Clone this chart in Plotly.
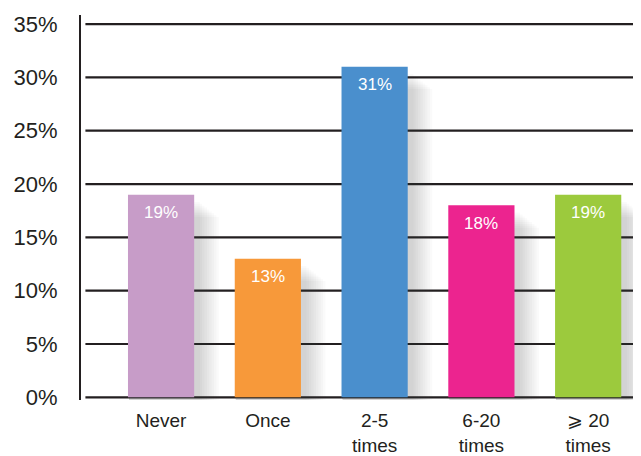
import plotly.graph_objects as go

categories = ["Never", "Once", "2-5<br>times", "6-20<br>times", "⩾ 20<br>times"]
values = [19, 13, 31, 18, 19]
bar_colors = ["#c79cc8", "#f7993a", "#4a8fcd", "#ec248f", "#9cca3d"]
y_ticks = [0, 5, 10, 15, 20, 25, 30, 35]
y_tick_labels = [f"{t}%" for t in y_ticks]

ink = "#231f20"
x_pos = list(range(len(categories)))
bar_w = 0.62

fig = go.Figure()

# soft drop shadow behind each bar, built from stacked translucent layers
n_layers = 9
for k in range(n_layers):
    spread = (n_layers - k) / n_layers
    fig.add_trace(go.Bar(
        x=x_pos, y=[v - 0.1 - 0.7 * spread for v in values],
        base=-0.4 - 0.9 * spread,
        width=bar_w + 0.02 + 0.2 * spread, offset=-bar_w / 2 + 0.01,
        marker=dict(color="rgba(70,70,85,0.028)", line=dict(width=0)),
        hoverinfo="skip", showlegend=False, cliponaxis=False,
    ))

fig.add_trace(go.Bar(
    x=x_pos, y=values, width=bar_w,
    marker=dict(color=bar_colors, line=dict(width=0)),
    showlegend=False, cliponaxis=False,
))

# value labels inside the top of each bar
for x, v in zip(x_pos, values):
    fig.add_annotation(
        x=x, y=v, text=f"{v}%", showarrow=False, yshift=-18,
        font=dict(family="Liberation Sans, Arial, sans-serif", size=17, color="white"),
    )

# horizontal gridlines
for t in y_ticks:
    fig.add_shape(
        type="line", xref="paper", yref="y", x0=0.008, x1=1, y0=t, y1=t,
        line=dict(color=ink, width=2.2), layer="below",
    )

fig.update_layout(
    width=641, height=456,
    margin=dict(l=81, r=8, t=15, b=56),
    paper_bgcolor="white", plot_bgcolor="white",
    barmode="overlay",
    font=dict(family="Liberation Sans, Arial, sans-serif", color=ink),
    xaxis=dict(
        range=[-0.75, 4.42], tickmode="array", tickvals=x_pos, ticktext=categories,
        showgrid=False, zeroline=False, showline=False, ticks="", automargin=False,
        tickfont=dict(size=19, color=ink), ticklabelstandoff=7,
    ),
    yaxis=dict(
        range=[-0.25, 35.85], tickmode="array", tickvals=y_ticks, ticktext=y_tick_labels,
        showgrid=False, zeroline=False, showline=True, linecolor=ink, linewidth=2,
        ticks="", ticklabelstandoff=17, tickfont=dict(size=22, color=ink), automargin=False,
    ),
)

fig.write_html("out.html")
